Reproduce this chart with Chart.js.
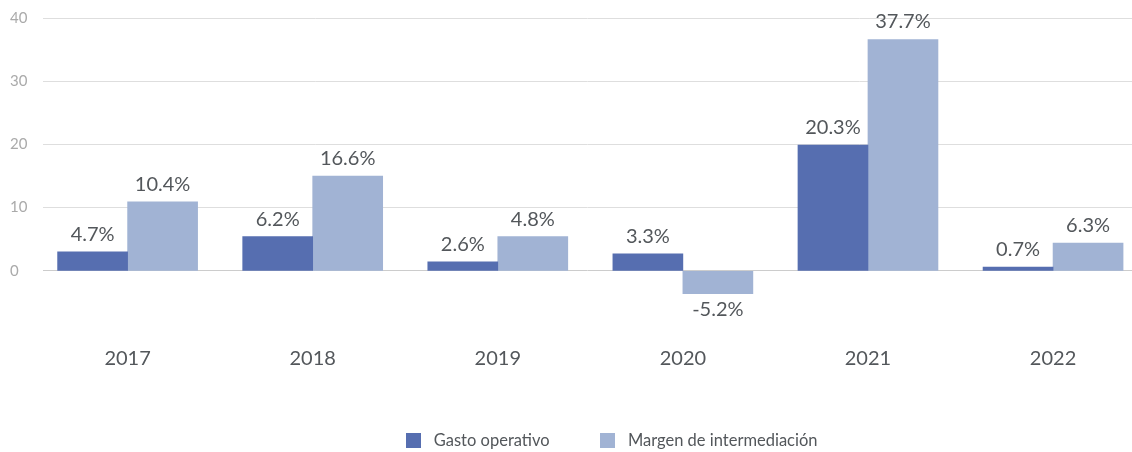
<!DOCTYPE html>
<html>
<head>
<meta charset="utf-8">
<script src="https://cdn.jsdelivr.net/npm/chart.js@4/dist/chart.umd.min.js"></script>
<style>
html,body{margin:0;padding:0;background:#fff;overflow:hidden;}
#wrap{position:relative;width:1132px;height:452px;}
</style>
</head>
<body>
<div id="wrap"><canvas id="c"></canvas></div>
<script>
const years = ['2017','2018','2019','2020','2021','2022'];
const gastoOperativo = [3.0, 5.4, 1.4, 2.7, 19.9, 0.6];
const margenIntermediacion = [10.9, 15.0, 5.4, -3.6, 36.6, 4.4];
const gastoLabels = ['4.7%','6.2%','2.6%','3.3%','20.3%','0.7%'];
const margenLabels = ['10.4%','16.6%','4.8%','-5.2%','37.7%','6.3%'];
const yTicks = [0, 10, 20, 30, 40];
const seriesColors = ['#566eb0', '#a1b3d4'];

const FONT = 'Lato, "Open Sans", sans-serif';

function swatch(color) {
  const c = document.createElement('canvas');
  c.width = 15; c.height = 15;
  const g = c.getContext('2d');
  g.fillStyle = color;
  g.fillRect(0, 0, 15, 15);
  return c;
}
const swatches = seriesColors.map(swatch);

const valueLabels = {
  id: 'valueLabels',
  afterLayout(chart) {
    if (chart.legend) chart.legend.left += 76;
  },
  afterDatasetsDraw(chart) {
    const ctx = chart.ctx;
    const texts = [gastoLabels, margenLabels];
    ctx.save();
    ctx.font = '20px ' + FONT;
    ctx.fillStyle = '#53575b';
    ctx.textAlign = 'center';
    chart.data.datasets.forEach((ds, di) => {
      const meta = chart.getDatasetMeta(di);
      meta.data.forEach((el, i) => {
        const v = ds.data[i].y;
        if (v >= 0) {
          ctx.textBaseline = 'alphabetic';
          ctx.fillText(texts[di][i], el.x, el.y - 11);
        } else {
          ctx.textBaseline = 'top';
          ctx.fillText(texts[di][i], el.x, el.y + 6);
        }
      });
    });
    ctx.restore();
  }
};

new Chart(document.getElementById('c'), {
  type: 'bar',
  data: {
    datasets: [
      {
        label: 'Gasto operativo',
        data: years.map((y, i) => ({x: i, y: gastoOperativo[i]})),
        backgroundColor: seriesColors[0],
        barThickness: 70
      },
      {
        label: 'Margen de intermediación',
        data: years.map((y, i) => ({x: i, y: margenIntermediacion[i]})),
        backgroundColor: seriesColors[1],
        barThickness: 70
      }
    ]
  },
  options: {
    responsive: true,
    maintainAspectRatio: false,
    animation: false,
    layout: { padding: { top: 18, left: 10, right: 0, bottom: -7 } },
    plugins: {
      legend: {
        position: 'bottom',
        labels: {
          usePointStyle: true,
          pointStyleWidth: 25,
          boxHeight: 15,
          padding: 45,
          color: '#53575b',
          font: { family: FONT, size: 16.5 },
          generateLabels(chart) {
            const items = Chart.defaults.plugins.legend.labels.generateLabels(chart);
            items.forEach((it) => { it.pointStyle = swatches[it.datasetIndex]; });
            return items;
          }
        }
      },
      tooltip: { enabled: false }
    },
    scales: {
      x: {
        type: 'linear',
        offset: false,
        min: -0.4571,
        max: 5.4265,
        grid: { display: false, drawTicks: false },
        border: { display: false },
        afterFit(scale) { scale.height = 53.5; },
        ticks: {
          stepSize: 1,
          includeBounds: false,
          autoSkip: false,
          maxRotation: 0,
          padding: 13,
          color: '#53575b',
          font: { family: FONT, size: 20 },
          callback: (v) => (Number.isInteger(v) && years[v] !== undefined) ? years[v] : ''
        }
      },
      y: {
        min: -10,
        max: 40,
        afterFit(scale) { scale.width = 33; },
        afterBuildTicks(scale) {
          scale.ticks = [-10].concat(yTicks).map(v => ({value: v}));
        },
        grid: {
          drawTicks: false,
          color: (c) => c.tick && c.tick.value === -10 ? 'rgba(0,0,0,0)' : (c.tick && c.tick.value === 0 ? '#cccccc' : '#dedede'),
          lineWidth: 1
        },
        border: { display: false },
        ticks: {
          crossAlign: 'far',
          padding: 0,
          color: '#aaaaaa',
          font: { family: FONT, size: 15 },
          callback: (v) => v === -10 ? '' : String(v)
        }
      }
    }
  },
  plugins: [valueLabels]
});
</script>
</body>
</html>
